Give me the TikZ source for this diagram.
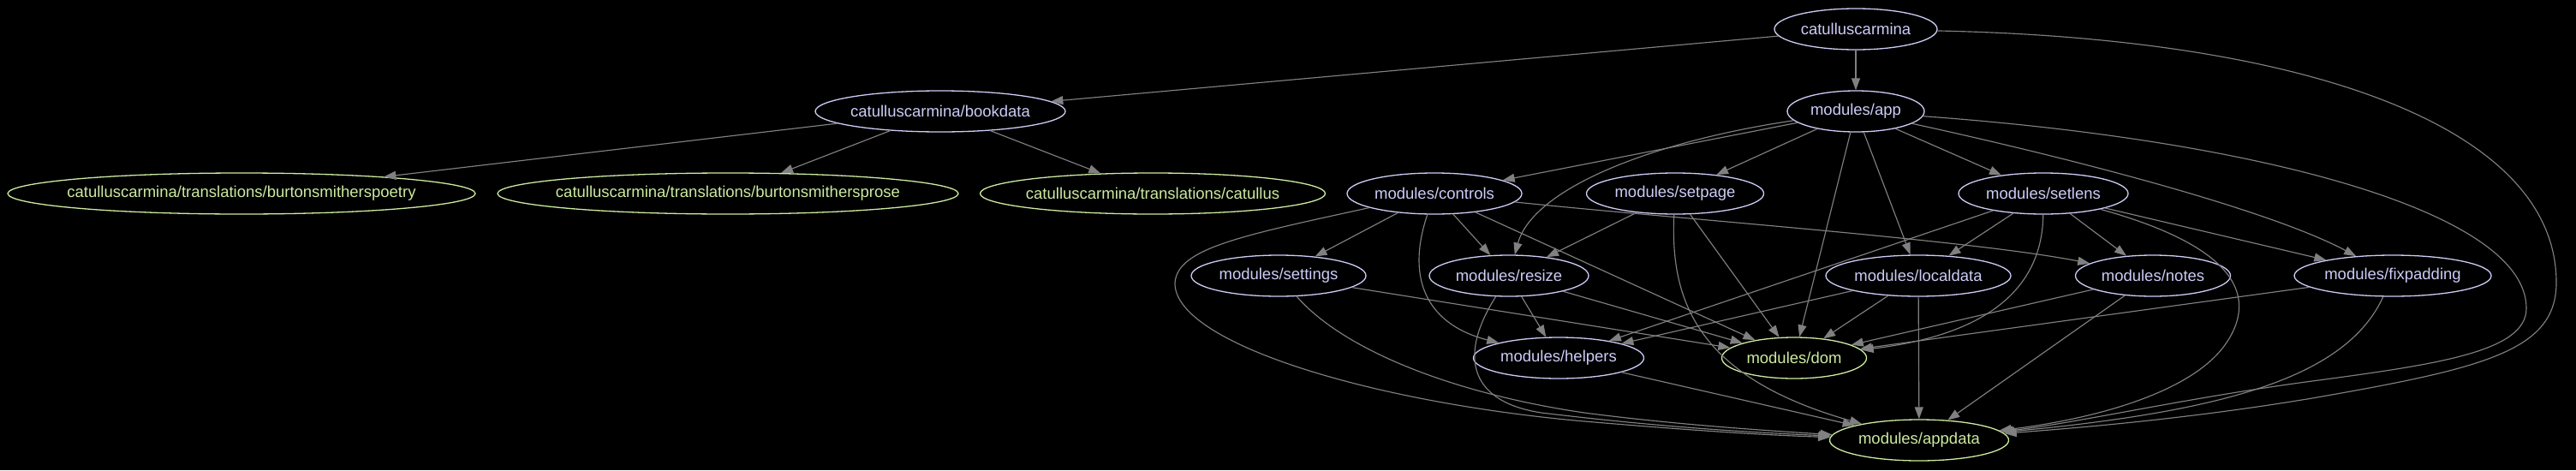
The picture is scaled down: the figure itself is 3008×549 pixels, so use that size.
\documentclass[tikz,border=0pt]{standalone}
\usepackage{fontspec}
\setmainfont{Liberation Sans}
\usetikzlibrary{shapes.geometric,arrows.meta}
\definecolor{lav}{RGB}{204,204,248}
\definecolor{grn}{RGB}{204,235,160}
\definecolor{edgegray}{RGB}{128,128,128}
\newcommand{\lbl}[1]{\makebox[0pt]{#1}}
\begin{document}
\begin{tikzpicture}[x=1pt,y=-1pt,
  base/.style={ellipse, draw, line width=1.3pt, inner sep=0pt, minimum height=48pt,
    font=\fontsize{18.5}{20}\selectfont, fill=black},
  lnode/.style={base, draw=lav, text=lav},
  gnode/.style={base, draw=grn, text=grn},
  e/.style={draw=edgegray, line width=1.15pt, -{Triangle[length=14pt,width=10pt]}, fill=none},
]
\fill[black] (0,0) rectangle (3008,549);
\useasboundingbox (0,0) rectangle (3008,549);

% nodes
\node[lnode, minimum width=190pt] (cc) at (2167,34) {\lbl{catulluscarmina}};
\node[lnode, minimum width=160pt] (app) at (2167,130) {\lbl{modules/app}};
\node[lnode, minimum width=292pt] (book) at (1098,130) {\lbl{catulluscarmina/bookdata}};
\node[gnode, minimum width=546pt] (poetry) at (282,226) {\lbl{catulluscarmina/translations/burtonsmitherspoetry}};
\node[gnode, minimum width=538pt] (prose) at (850,226) {\lbl{catulluscarmina/translations/burtonsmithersprose}};
\node[gnode, minimum width=403pt] (catl) at (1346,226) {\lbl{catulluscarmina/translations/catullus}};
\node[lnode, minimum width=204pt] (controls) at (1675,226) {\lbl{modules/controls}};
\node[lnode, minimum width=207pt] (setpage) at (1956,226) {\lbl{modules/setpage}};
\node[lnode, minimum width=198pt] (setlens) at (2386,226) {\lbl{modules/setlens}};
\node[lnode, minimum width=204pt] (settings) at (1493,322) {\lbl{modules/settings}};
\node[lnode, minimum width=186pt] (resize) at (1762,322) {\lbl{modules/resize}};
\node[lnode, minimum width=216pt] (localdata) at (2240,322) {\lbl{modules/localdata}};
\node[lnode, minimum width=181pt] (notes) at (2514,322) {\lbl{modules/notes}};
\node[lnode, minimum width=230pt] (fixpadding) at (2794,322) {\lbl{modules/fixpadding}};
\node[lnode, minimum width=199pt] (helpers) at (1820,418) {\lbl{modules/helpers}};
\node[gnode, minimum width=169pt] (dom) at (2095,418) {\lbl{modules/dom}};
\node[gnode, minimum width=209pt] (appdata) at (2241,514) {\lbl{modules/appdata}};

% straight edges
\draw[e] (cc) -- (book);
\draw[e] (cc) -- (app);
\draw[e] (book) -- (poetry);
\draw[e] (book) -- (prose);
\draw[e] (book) -- (catl);
\draw[e] (app) -- (controls);
\draw[e] (app) -- (setpage);
\draw[e] (app) -- (setlens);
\draw[e] (app) -- (dom);
\draw[e] (app) -- (localdata);
\draw[e] (controls) -- (settings);
\draw[e] (controls) -- (resize);
\draw[e] (controls) -- (dom);
\draw[e] (setpage) -- (resize);
\draw[e] (setpage) -- (dom);
\draw[e] (setlens) -- (helpers);
\draw[e] (setlens) -- (localdata);
\draw[e] (setlens) -- (notes);
\draw[e] (setlens) -- (fixpadding);
\draw[e] (settings) -- (dom);
\draw[e] (resize) -- (helpers);
\draw[e] (resize) -- (dom);
\draw[e] (localdata) -- (helpers);
\draw[e] (localdata) -- (dom);
\draw[e] (localdata) -- (appdata);
\draw[e] (notes) -- (dom);
\draw[e] (notes) -- (appdata);
\draw[e] (fixpadding) -- (dom);
\draw[e] (helpers) -- (appdata);

% curved edges
\draw[e] (cc) .. controls (2700,45) and (2985,150) .. (2985,330)
  .. controls (2985,410) and (2900,430) .. (2700,465)
  .. controls (2550,490) and (2420,500) .. (appdata);
\draw[e] (app) .. controls (2650,165) and (2950,250) .. (2950,360)
  .. controls (2950,410) and (2850,425) .. (2700,445)
  .. controls (2550,465) and (2420,495) .. (appdata);
\draw[e] (setlens) .. controls (2600,285) and (2640,340) .. (2600,400)
  .. controls (2560,460) and (2440,490) .. (appdata);
\draw[e] (fixpadding) .. controls (2740,440) and (2600,480) .. (appdata);
\draw[e] (setpage) .. controls (1950,350) and (1980,440) .. (appdata);
\draw[e] (resize) .. controls (1700,420) and (1720,470) .. (1800,482)
  .. controls (1950,500) and (2050,505) .. (appdata);
\draw[e] (settings) .. controls (1570,410) and (1700,460) .. (1850,482)
  .. controls (1950,495) and (2050,502) .. (appdata);
\draw[e] (controls) .. controls (1450,275) and (1375,290) .. (1372,330)
  .. controls (1370,400) and (1600,470) .. (1850,492)
  .. controls (1980,503) and (2060,508) .. (appdata);
\draw[e] (controls) .. controls (1640,330) and (1670,380) .. (helpers);
\draw[e] (setlens) .. controls (2385,330) and (2330,390) .. (dom);
\draw[e] (app) .. controls (1930,165) and (1790,220) .. (resize);
\draw[e] (app) .. controls (2420,185) and (2650,245) .. (fixpadding);
\draw[e] (controls) .. controls (1950,255) and (2300,280) .. (notes);
\end{tikzpicture}
\end{document}
